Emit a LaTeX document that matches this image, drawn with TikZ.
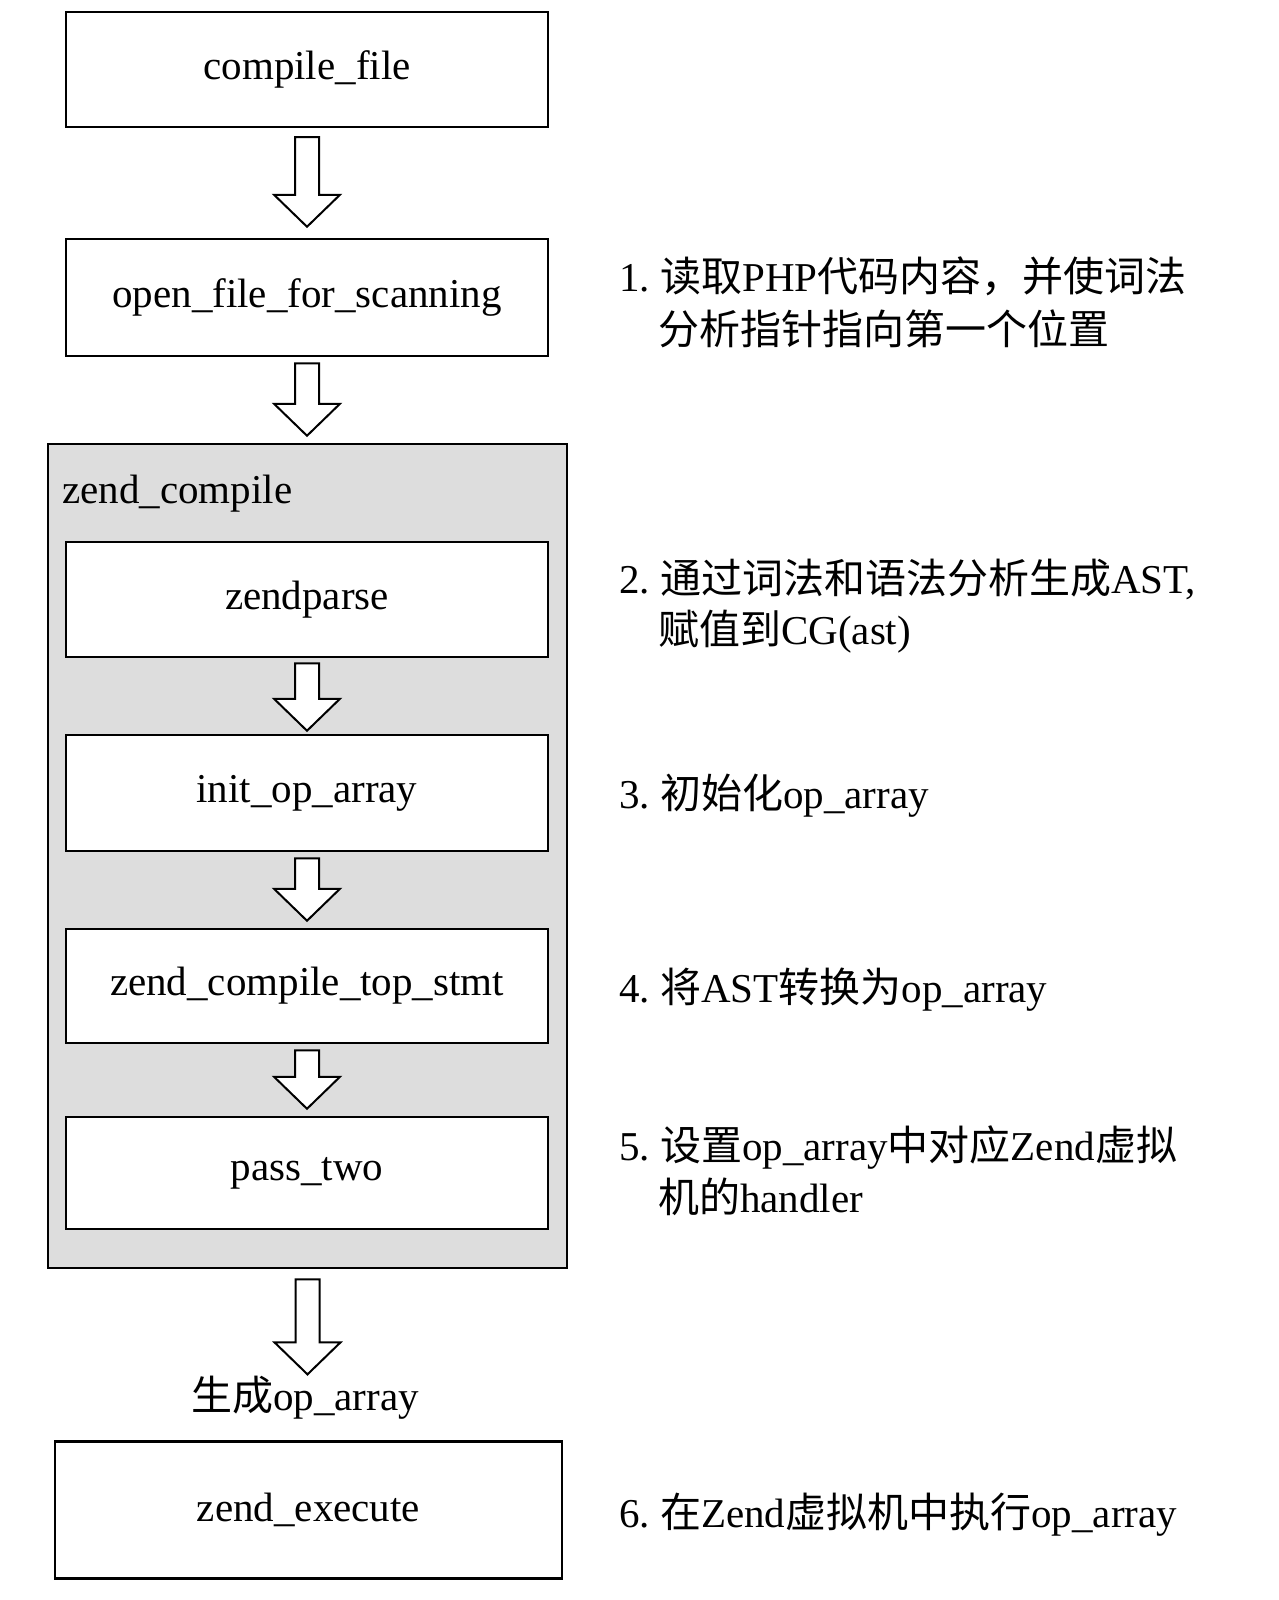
\documentclass[tikz,border=0pt]{standalone}
\usepackage{fontspec}
\usepackage{graphicx}
\setmainfont{Liberation Serif}
\newfontfamily\cjk{Noto Sans CJK SC}
\newcommand{\zh}[1]{{\cjk #1}}
\usetikzlibrary{calc}
\definecolor{boxgray}{RGB}{221,221,221}
\frenchspacing
% block arrow: from node, top gap, target point, tip gap
\newcommand{\blockarrow}[4]{%
  \draw[barrowstyle] let \p1=(#1.south), \p2=(#3) in
    (\x1-12pt,\y1-#2pt) -- (\x1-12pt,\y2+#4pt+32pt) -- (\x1-33pt,\y2+#4pt+32pt)
    -- (\x1,\y2+#4pt) -- (\x1+33pt,\y2+#4pt+32pt) -- (\x1+12pt,\y2+#4pt+32pt)
    -- (\x1+12pt,\y1-#2pt) -- cycle;}
\begin{document}
\begin{tikzpicture}[x=1pt,y=-1pt,
  box/.style={draw=black, line width=2.5pt, fill=white, minimum width=482pt,
    minimum height=115pt, inner sep=0pt, font=\fontsize{41}{49}\selectfont},
  note/.style={anchor=base west, inner sep=0pt, font=\fontsize{41}{49}\selectfont},
  plain/.style={inner sep=0pt, font=\fontsize{41}{49}\selectfont},
  barrowstyle/.style={draw=black, line width=2pt, fill=white, line join=miter}]
\fill[white] (0,0) rectangle (1278,1600);
\useasboundingbox (0,0) rectangle (1278,1600);

% container
\node[draw=black, line width=2.5pt, fill=boxgray, minimum width=519pt,
  minimum height=824pt, inner sep=0pt] (zc) at (307.5,856) {};
\node[plain, anchor=west] (zcl) at (62,494) {zend\_compile};

% boxes
\node[box] (cf) at (307,69.5) {compile\_file};
\node[box, minimum height=117pt] (ofs) at (307,297.5) {open\_file\_for\_scanning};
\node[box] (zp) at (307,599.5) {zendparse};
\node[box, minimum height=116pt] (ioa) at (307,793) {init\_op\_array};
\node[box, minimum height=114pt] (zcts) at (307,986) {zend\_compile\_top\_stmt};
\node[box, minimum height=112pt] (pt) at (307,1173) {pass\_two};
\node[plain, anchor=base] (lbl) at (305,1410) {\zh{生成}op\_array};
\node[box, minimum width=507pt, minimum height=137pt] (ze) at (308.5,1510) {zend\_execute};

% arrows
\blockarrow{cf}{9}{ofs.north}{11}
\blockarrow{ofs}{6}{zc.north}{7}
\blockarrow{zp}{5}{ioa.north}{3}
\blockarrow{ioa}{6}{zcts.north}{7}
\blockarrow{zcts}{6}{pt.north}{7}
\blockarrow{zc}{10}{lbl.north}{1}

% notes
\node[note] (n1a) at (619,291) {1. \zh{读取}PHP\zh{代码内容，并使词法}};
\node[note] (n1b) at (658,344) {\makebox[447pt][s]{\cjk 分\hfil 析\hfil 指\hfil 针\hfil 指\hfil 向\hfil 第\hfil 一\hfil 个\hfil 位\hfil 置}};
\node[note] (n2a) at (619,593) {2. \zh{通过词法和语法分析生成}AST,};
\node[note] (n2b) at (658,644) {\zh{赋值到}CG(ast)};
\node[note] (n3) at (619,808) {3. \zh{初始化}op\_array};
\node[note] (n4) at (619,1002) {4. \zh{将}AST\zh{转换为}op\_array};
\node[note] (n5a) at (619,1160) {5. \zh{设置}op\_array\zh{中对应}Zend\zh{虚拟}};
\node[note] (n5b) at (658,1212) {\zh{机的}handler};
\node[note] (n6) at (619,1527) {6. \zh{在}Zend\zh{虚拟机中执行}op\_array};
\end{tikzpicture}
\end{document}
